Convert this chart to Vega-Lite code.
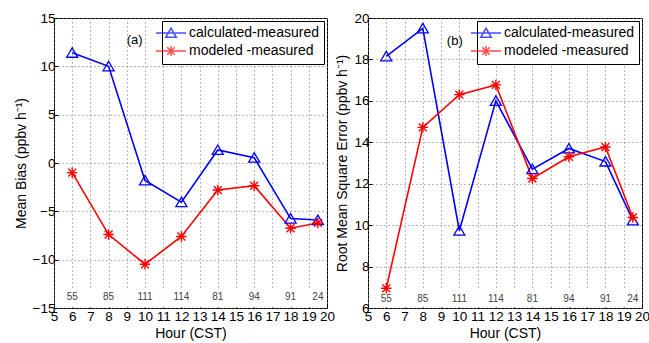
{
  "$schema": "https://vega.github.io/schema/vega-lite/v6.json",
  "background": "white",
  "padding": {"left": 13, "top": 10, "right": 0, "bottom": 0},
  "spacing": -1,
  "config": {
    "font": "Liberation Sans",
    "view": {"stroke": "black", "strokeWidth": 1},
    "axis": {
      "grid": true, "gridDash": [1, 3], "gridColor": "#777", "gridOpacity": 1, "gridWidth": 1,
      "domain": false, "tickColor": "black", "tickSize": -4, "labelPadding": 3,
      "labelFontSize": 13.5, "labelColor": "black", "titleFontSize": 14, "titleFontWeight": "normal",
      "titleColor": "black", "labelFont": "Liberation Sans", "titleFont": "Liberation Sans"
    },
    "axisX": {"labelOverlap": false, "labelFlush": false, "titlePadding": 4, "labelPadding": 5},
    "axisY": {"titlePadding": 4},
    "legend": {
      "orient": "top-right", "offset": 3, "strokeColor": "black", "fillColor": "white",
      "padding": 5, "labelFontSize": 14, "labelFont": "Liberation Sans", "labelColor": "black",
      "symbolSize": 100, "symbolOffset": -3, "labelOffset": 11, "rowPadding": 2, "title": null,
      "cornerRadius": 0, "symbolStrokeWidth": 1.5
    }
  },
  "datasets": {
    "main": [
      {"hour": 6, "series": "calculated-measured", "mb": 11.4, "rmse": 18.15, "n": 55},
      {"hour": 8, "series": "calculated-measured", "mb": 10.0, "rmse": 19.5, "n": 85},
      {"hour": 10, "series": "calculated-measured", "mb": -1.8, "rmse": 9.73, "n": 111},
      {"hour": 12, "series": "calculated-measured", "mb": -4.05, "rmse": 16.0, "n": 114},
      {"hour": 14, "series": "calculated-measured", "mb": 1.35, "rmse": 12.7, "n": 81},
      {"hour": 16, "series": "calculated-measured", "mb": 0.55, "rmse": 13.7, "n": 94},
      {"hour": 18, "series": "calculated-measured", "mb": -5.75, "rmse": 13.07, "n": 91},
      {"hour": 19.5, "series": "calculated-measured", "mb": -5.9, "rmse": 10.23, "n": 24},
      {"hour": 6, "series": "modeled -measured", "mb": -1.0, "rmse": 6.95, "n": 55},
      {"hour": 8, "series": "modeled -measured", "mb": -7.4, "rmse": 14.72, "n": 85},
      {"hour": 10, "series": "modeled -measured", "mb": -10.47, "rmse": 16.3, "n": 111},
      {"hour": 12, "series": "modeled -measured", "mb": -7.6, "rmse": 16.77, "n": 114},
      {"hour": 14, "series": "modeled -measured", "mb": -2.8, "rmse": 12.25, "n": 81},
      {"hour": 16, "series": "modeled -measured", "mb": -2.35, "rmse": 13.3, "n": 94},
      {"hour": 18, "series": "modeled -measured", "mb": -6.75, "rmse": 13.77, "n": 91},
      {"hour": 19.5, "series": "modeled -measured", "mb": -6.2, "rmse": 10.37, "n": 24}
    ]
  },
  "resolve": {"scale": {"color": "independent", "shape": "independent"}, "legend": {"color": "independent", "shape": "independent"}},
  "hconcat": [
    {
      "width": 273, "height": 290,
      "layer": [
        {
          "data": {"values": [{"k": 1}]},
          "mark": {"type": "rect", "fill": "white"},
          "encoding": {
            "x": {"datum": 5.05, "type": "quantitative", "title": "Hour (CST)", "scale": {"domain": [5, 20], "nice": false, "zero": false}, "axis": {"values": [5,6,7,8,9,10,11,12,13,14,15,16,17,18,19,20]}},
            "x2": {"datum": 19.95},
            "y": {"datum": -14.95, "type": "quantitative", "title": "Mean Bias (ppbv h⁻¹)", "scale": {"domain": [-15, 15], "nice": false, "zero": false}, "axis": {"values": [-15,-10,-5,0,5,10,15]}},
            "y2": {"datum": -13.05}
          }
        },
        {
          "data": {"name": "main"},
          "mark": {"type": "line", "strokeWidth": 1.6},
          "encoding": {
            "x": {"field": "hour", "type": "quantitative", "title": "Hour (CST)", "scale": {"domain": [5, 20], "nice": false, "zero": false}, "axis": {"values": [5,6,7,8,9,10,11,12,13,14,15,16,17,18,19,20]}},
            "y": {"field": "mb", "type": "quantitative", "title": "Mean Bias (ppbv h⁻¹)", "scale": {"domain": [-15, 15], "nice": false, "zero": false}, "axis": {"values": [-15,-10,-5,0,5,10,15]}},
            "color": {"field": "series", "type": "nominal",
                      "scale": {"domain": ["calculated-measured", "modeled -measured"], "range": ["#0000ff", "#ff0000"]}}
          }
        },
        {
          "data": {"name": "main"},
          "transform": [{"filter": "datum.series === 'calculated-measured'"}],
          "mark": {"type": "point", "filled": false, "size": 110, "strokeWidth": 1.3, "opacity": 1, "color": "#0000ff", "shape": "M0,-0.95L1.05,0.85H-1.05Z"},
          "encoding": {
            "x": {"field": "hour", "type": "quantitative", "title": "Hour (CST)", "scale": {"domain": [5, 20], "nice": false, "zero": false}, "axis": {"values": [5,6,7,8,9,10,11,12,13,14,15,16,17,18,19,20]}},
            "y": {"field": "mb", "type": "quantitative", "title": "Mean Bias (ppbv h⁻¹)", "scale": {"domain": [-15, 15], "nice": false, "zero": false}, "axis": {"values": [-15,-10,-5,0,5,10,15]}}
          }
        },
        {
          "data": {"name": "main"},
          "transform": [{"filter": "datum.series === 'modeled -measured'"}],
          "mark": {"type": "point", "filled": false, "size": 110, "strokeWidth": 1.4, "opacity": 1, "color": "#ff0000", "shape": "M0,-1V1M-1,0H1M-0.75,-0.75L0.75,0.75M-0.75,0.75L0.75,-0.75"},
          "encoding": {
            "x": {"field": "hour", "type": "quantitative", "title": "Hour (CST)", "scale": {"domain": [5, 20], "nice": false, "zero": false}, "axis": {"values": [5,6,7,8,9,10,11,12,13,14,15,16,17,18,19,20]}},
            "y": {"field": "mb", "type": "quantitative", "title": "Mean Bias (ppbv h⁻¹)", "scale": {"domain": [-15, 15], "nice": false, "zero": false}, "axis": {"values": [-15,-10,-5,0,5,10,15]}}
          }
        },
        {
          "data": {"name": "main"},
          "transform": [{"filter": "false"}],
          "mark": {"type": "point", "filled": false, "strokeWidth": 1.5},
          "encoding": {
            "x": {"field": "hour", "type": "quantitative", "title": "Hour (CST)", "scale": {"domain": [5, 20], "nice": false, "zero": false}, "axis": {"values": [5,6,7,8,9,10,11,12,13,14,15,16,17,18,19,20]}},
            "y": {"field": "mb", "type": "quantitative", "title": "Mean Bias (ppbv h⁻¹)", "scale": {"domain": [-15, 15], "nice": false, "zero": false}, "axis": {"values": [-15,-10,-5,0,5,10,15]}},
            "color": {"field": "series", "type": "nominal"},
            "shape": {"field": "series", "type": "nominal",
                      "scale": {"domain": ["calculated-measured", "modeled -measured"], "range": ["M-3,0H3M0,-0.95L1.05,0.85H-1.05Z", "M-3,0H3M0,-1V1M-0.75,-0.75L0.75,0.75M-0.75,0.75L0.75,-0.75"]}}
          }
        },
        {
          "data": {"name": "main"},
          "transform": [{"filter": "datum.series === 'calculated-measured'"}],
          "mark": {"type": "text", "fontSize": 10, "color": "#444"},
          "encoding": {
            "x": {"field": "hour", "type": "quantitative", "title": "Hour (CST)", "scale": {"domain": [5, 20], "nice": false, "zero": false}, "axis": {"values": [5,6,7,8,9,10,11,12,13,14,15,16,17,18,19,20]}},
            "y": {"datum": -13.9, "type": "quantitative", "title": "Mean Bias (ppbv h⁻¹)", "scale": {"domain": [-15, 15], "nice": false, "zero": false}, "axis": {"values": [-15,-10,-5,0,5,10,15]}},
            "text": {"field": "n", "type": "quantitative"}
          }
        },
        {
          "data": {"values": [{"label": "(a)"}]},
          "mark": {"type": "text", "fontSize": 13, "color": "black"},
          "encoding": {
            "x": {"datum": 9.43, "type": "quantitative", "title": "Hour (CST)", "scale": {"domain": [5, 20], "nice": false, "zero": false}, "axis": {"values": [5,6,7,8,9,10,11,12,13,14,15,16,17,18,19,20]}},
            "y": {"datum": 12.7, "type": "quantitative", "title": "Mean Bias (ppbv h⁻¹)", "scale": {"domain": [-15, 15], "nice": false, "zero": false}, "axis": {"values": [-15,-10,-5,0,5,10,15]}},
            "text": {"field": "label", "type": "nominal"}
          }
        }
      ]
    },
    {
      "width": 274, "height": 290,
      "layer": [
        {
          "data": {"values": [{"k": 1}]},
          "mark": {"type": "rect", "fill": "white"},
          "encoding": {
            "x": {"datum": 5.05, "type": "quantitative", "title": "Hour (CST)", "scale": {"domain": [5, 20], "nice": false, "zero": false}, "axis": {"values": [5,6,7,8,9,10,11,12,13,14,15,16,17,18,19,20]}},
            "x2": {"datum": 19.95},
            "y": {"datum": 6.02, "type": "quantitative", "title": "Root Mean Square Error (ppbv h⁻¹)", "scale": {"domain": [6, 20], "nice": false, "zero": false}, "axis": {"values": [6,8,10,12,14,16,18,20]}},
            "y2": {"datum": 6.9}
          }
        },
        {
          "data": {"name": "main"},
          "mark": {"type": "line", "strokeWidth": 1.6},
          "encoding": {
            "x": {"field": "hour", "type": "quantitative", "title": "Hour (CST)", "scale": {"domain": [5, 20], "nice": false, "zero": false}, "axis": {"values": [5,6,7,8,9,10,11,12,13,14,15,16,17,18,19,20]}},
            "y": {"field": "rmse", "type": "quantitative", "title": "Root Mean Square Error (ppbv h⁻¹)", "scale": {"domain": [6, 20], "nice": false, "zero": false}, "axis": {"values": [6,8,10,12,14,16,18,20]}},
            "color": {"field": "series", "type": "nominal",
                      "scale": {"domain": ["calculated-measured", "modeled -measured"], "range": ["#0000ff", "#ff0000"]}}
          }
        },
        {
          "data": {"name": "main"},
          "transform": [{"filter": "datum.series === 'calculated-measured'"}],
          "mark": {"type": "point", "filled": false, "size": 110, "strokeWidth": 1.3, "opacity": 1, "color": "#0000ff", "shape": "M0,-0.95L1.05,0.85H-1.05Z"},
          "encoding": {
            "x": {"field": "hour", "type": "quantitative", "title": "Hour (CST)", "scale": {"domain": [5, 20], "nice": false, "zero": false}, "axis": {"values": [5,6,7,8,9,10,11,12,13,14,15,16,17,18,19,20]}},
            "y": {"field": "rmse", "type": "quantitative", "title": "Root Mean Square Error (ppbv h⁻¹)", "scale": {"domain": [6, 20], "nice": false, "zero": false}, "axis": {"values": [6,8,10,12,14,16,18,20]}}
          }
        },
        {
          "data": {"name": "main"},
          "transform": [{"filter": "datum.series === 'modeled -measured'"}],
          "mark": {"type": "point", "filled": false, "size": 110, "strokeWidth": 1.4, "opacity": 1, "color": "#ff0000", "shape": "M0,-1V1M-1,0H1M-0.75,-0.75L0.75,0.75M-0.75,0.75L0.75,-0.75"},
          "encoding": {
            "x": {"field": "hour", "type": "quantitative", "title": "Hour (CST)", "scale": {"domain": [5, 20], "nice": false, "zero": false}, "axis": {"values": [5,6,7,8,9,10,11,12,13,14,15,16,17,18,19,20]}},
            "y": {"field": "rmse", "type": "quantitative", "title": "Root Mean Square Error (ppbv h⁻¹)", "scale": {"domain": [6, 20], "nice": false, "zero": false}, "axis": {"values": [6,8,10,12,14,16,18,20]}}
          }
        },
        {
          "data": {"name": "main"},
          "transform": [{"filter": "false"}],
          "mark": {"type": "point", "filled": false, "strokeWidth": 1.5},
          "encoding": {
            "x": {"field": "hour", "type": "quantitative", "title": "Hour (CST)", "scale": {"domain": [5, 20], "nice": false, "zero": false}, "axis": {"values": [5,6,7,8,9,10,11,12,13,14,15,16,17,18,19,20]}},
            "y": {"field": "rmse", "type": "quantitative", "title": "Root Mean Square Error (ppbv h⁻¹)", "scale": {"domain": [6, 20], "nice": false, "zero": false}, "axis": {"values": [6,8,10,12,14,16,18,20]}},
            "color": {"field": "series", "type": "nominal"},
            "shape": {"field": "series", "type": "nominal",
                      "scale": {"domain": ["calculated-measured", "modeled -measured"], "range": ["M-3,0H3M0,-0.95L1.05,0.85H-1.05Z", "M-3,0H3M0,-1V1M-0.75,-0.75L0.75,0.75M-0.75,0.75L0.75,-0.75"]}}
          }
        },
        {
          "data": {"name": "main"},
          "transform": [{"filter": "datum.series === 'calculated-measured'"}],
          "mark": {"type": "text", "fontSize": 10, "color": "#444"},
          "encoding": {
            "x": {"field": "hour", "type": "quantitative", "title": "Hour (CST)", "scale": {"domain": [5, 20], "nice": false, "zero": false}, "axis": {"values": [5,6,7,8,9,10,11,12,13,14,15,16,17,18,19,20]}},
            "y": {"datum": 6.43, "type": "quantitative", "title": "Root Mean Square Error (ppbv h⁻¹)", "scale": {"domain": [6, 20], "nice": false, "zero": false}, "axis": {"values": [6,8,10,12,14,16,18,20]}},
            "text": {"field": "n", "type": "quantitative"}
          }
        },
        {
          "data": {"values": [{"label": "(b)"}]},
          "mark": {"type": "text", "fontSize": 13, "color": "black"},
          "encoding": {
            "x": {"datum": 9.75, "type": "quantitative", "title": "Hour (CST)", "scale": {"domain": [5, 20], "nice": false, "zero": false}, "axis": {"values": [5,6,7,8,9,10,11,12,13,14,15,16,17,18,19,20]}},
            "y": {"datum": 18.9, "type": "quantitative", "title": "Root Mean Square Error (ppbv h⁻¹)", "scale": {"domain": [6, 20], "nice": false, "zero": false}, "axis": {"values": [6,8,10,12,14,16,18,20]}},
            "text": {"field": "label", "type": "nominal"}
          }
        }
      ]
    }
  ]
}
